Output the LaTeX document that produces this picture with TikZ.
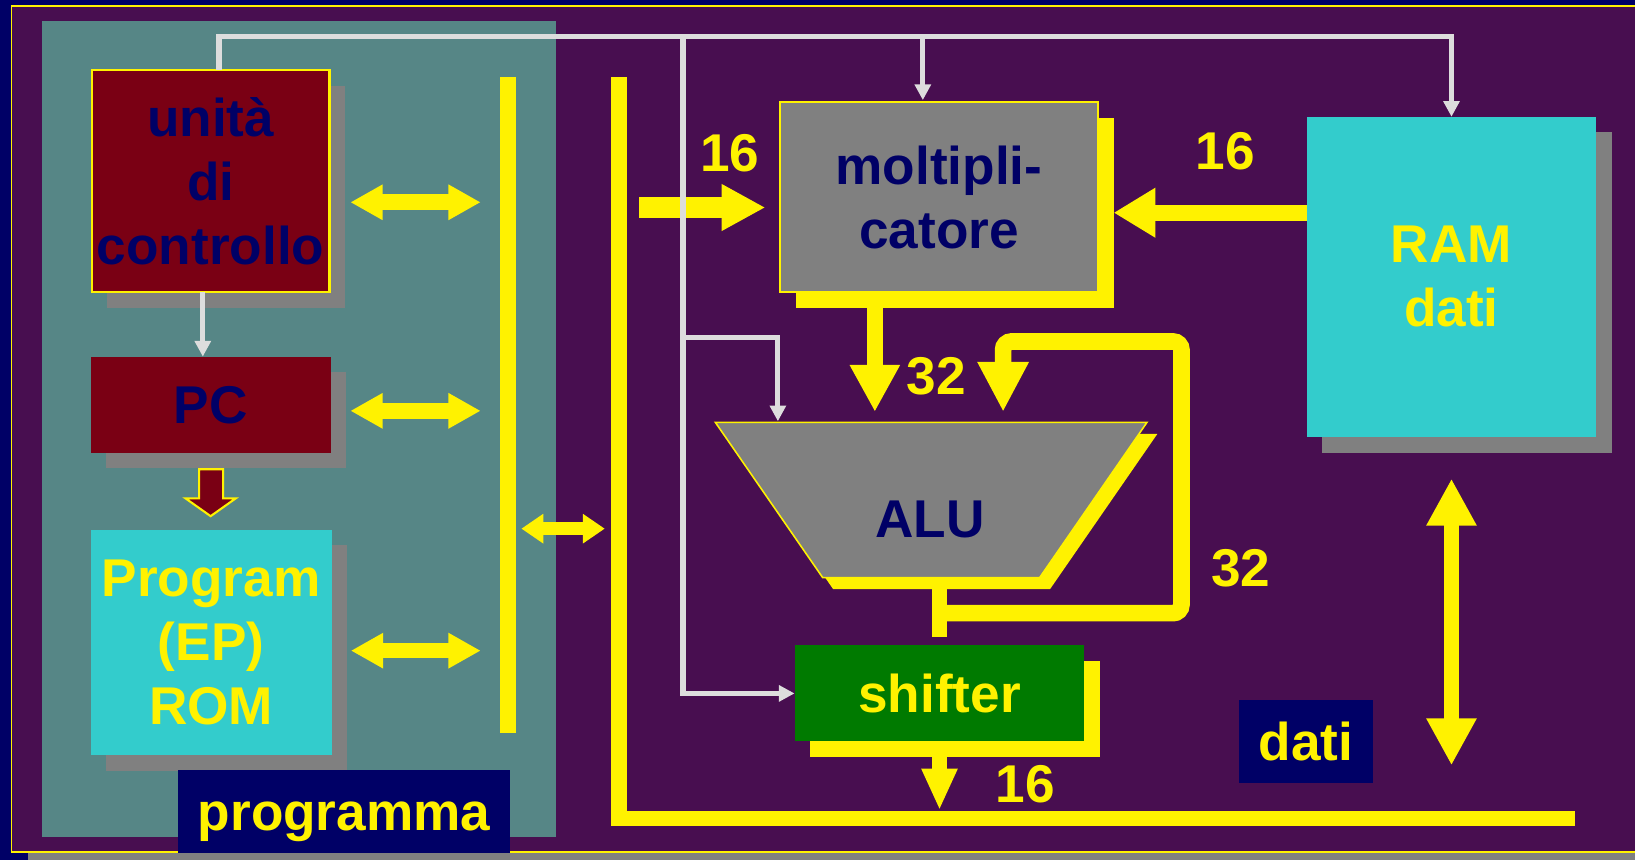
\documentclass[tikz,border=0pt]{standalone}
\usepackage{fontspec}
\setmainfont{Liberation Sans}
\usetikzlibrary{arrows.meta,shadows}
\definecolor{navy}{RGB}{0,0,102}
\definecolor{bgpurple}{RGB}{72,14,80}
\definecolor{progteal}{RGB}{86,134,134}
\definecolor{dred}{RGB}{122,0,20}
\definecolor{cyanbox}{RGB}{51,204,204}
\definecolor{gbox}{RGB}{128,128,128}
\definecolor{gshift}{RGB}{0,122,0}
\definecolor{ctrl}{RGB}{221,221,221}
\begin{document}
\begin{tikzpicture}[x=1pt,y=-1pt,
  every node/.style={font=\fontsize{51}{61.5}\selectfont\bfseries, inner sep=0pt, outer sep=0pt},
  grayshadow/.style={drop shadow={shadow xshift=15pt, shadow yshift=-15pt, fill=gbox, opacity=1}},
  yelshadow/.style={drop shadow={shadow xshift=15pt, shadow yshift=-15pt, fill=yellow, opacity=1}},
  onel/.style={text height=36.5pt, text depth=0pt},
  ctrlarrow/.style={draw=ctrl, line width=5pt, -{Triangle[width=15pt,length=15pt]}},
  bus/.style={draw=yellow, line width=15pt, line join=miter},
  dblarrow/.style={draw=yellow, line width=15pt, {Triangle[width=32pt,length=31pt]}-{Triangle[width=32pt,length=31pt]}},
]
\useasboundingbox (0,0) rectangle (1568,825);
% background and frame
\fill[navy] (0,0) rectangle (1568,825);
\fill[gbox] (27,817) rectangle (1568,825);
\fill[bgpurple] (11,6) rectangle (1568,817);
\draw[yellow, line width=1.8pt] (1572,6) -- (11,6) -- (11,817) -- (1572,817);
\fill[progteal] (40,20) rectangle (533,803);

% program-side blocks
\node[fill=dred, draw=yellow, line width=2pt, minimum width=228pt, minimum height=213pt,
      align=center, text=navy, grayshadow] (cu) at (202,173.5) {unità\\di\\controllo};
\node[fill=dred, minimum width=230pt, minimum height=92pt, text=navy, onel, grayshadow] (pc) at (202,388) {PC};
\node[fill=cyanbox, minimum width=231pt, minimum height=216pt, align=center, text=yellow,
      grayshadow] (rom) at (202.5,616) {Program\\(EP)\\ROM};

% PC -> ROM block arrow
\filldraw[fill=dred, draw=yellow, line width=2pt, line join=miter]
  (191,450) -- (214,450) -- (214,478) -- (226,478) -- (202,495) -- (178,478) -- (191,478) -- cycle;

% data-side blocks
\node[fill=gbox, draw=yellow, line width=2pt, minimum width=305pt, minimum height=182pt,
      align=center, text=navy, yelshadow] (mul) at (900.5,189) {moltipli-\\catore};
\node[fill=cyanbox, minimum width=278pt, minimum height=307pt, align=center, text=yellow,
      grayshadow] (ram) at (1392,265.5) {RAM\\dati};
\node[fill=gshift, minimum width=278pt, minimum height=92pt, text=yellow, onel, yelshadow] (sh) at (901,665) {shifter};

% ALU
\fill[yellow] (696,416) -- (1110,416) -- (1007,565) -- (799,565) -- cycle;
\filldraw[fill=gbox, draw=yellow, line width=1.5pt] (686,405) -- (1100,405) -- (997,554) -- (789,554) -- cycle;
\node[text=navy, onel] (alu) at (892,497) {ALU};

% buses
\coordinate (pbtop) at (487,74);
\coordinate (pbbot) at (487,703);
\draw[bus] (pbtop) -- (pbbot);
\coordinate (dbtop) at (593.5,74);
\coordinate (dbcorner) at (593.5,785);
\coordinate (dbend) at (1510,785);
\draw[bus] (dbtop) -- (dbcorner) -- (dbend);

% block to program-bus arrows
\draw[dblarrow] ([xshift=20pt]cu.east |- 0,194) -- (461,194);
\draw[dblarrow] ([xshift=19pt]pc.east |- 0,394) -- (461,394);
\draw[dblarrow] ([xshift=18.5pt]rom.east |- 0,624) -- (461,624);
% bus to bus
\draw[draw=yellow, line width=12pt, {Triangle[width=27pt,length=21pt]}-{Triangle[width=27pt,length=21pt]}] (500,507) -- (580,507);

% data arrows
\draw[draw=yellow, line width=20pt, -{Triangle[width=42pt,length=42pt]}] (613,199) -- ([xshift=-14pt]mul.west |- 0,199);
\draw[draw=yellow, line width=15pt, -{Triangle[width=45pt,length=40pt]}] (ram.west |- 0,204) -- ([xshift=15pt]mul.east |- 0,204);
\draw[draw=yellow, line width=15pt, -{Triangle[width=45pt,length=45pt]}] (839,294) -- (839,395);
\draw[draw=yellow, line width=16pt, rounded corners=8pt, -{Triangle[width=46pt,length=48pt]}]
  (901,588) -- (1133,588) -- (1133,327.5) -- (962,327.5) -- (962,395);
\draw[draw=yellow, line width=15pt] (901,560) -- (901,611);
\draw[draw=yellow, line width=14pt, -{Triangle[width=32pt,length=40pt]}] (901,726) -- (901,777);
\draw[draw=yellow, line width=15pt, {Triangle[width=45pt,length=45pt]}-{Triangle[width=45pt,length=45pt]}] (1392,459) -- (1392,734);

% control lines
\draw[ctrlarrow] ([xshift=8pt]cu.north) |- (1392,35) -- (ram.north);
\draw[ctrlarrow] (885,35) -- (885,96);
\draw[ctrlarrow] (655,35) |- (sh.west);
\draw[ctrlarrow] (655,324) -| (746,404);
\draw[ctrlarrow] ([xshift=-7.5pt]cu.south) -- ([xshift=-7.5pt]pc.north);

% labels
\node[fill=navy, minimum width=318pt, minimum height=80pt, text=yellow, onel] (progl) at (330,778) {programma};
\node[fill=navy, minimum width=129pt, minimum height=80pt, text=yellow, onel] (datil) at (1252.5,711) {dati};
\node[text=yellow, onel] (l16a) at (700,146) {16};
\node[text=yellow, onel] (l16b) at (1175,144) {16};
\node[text=yellow, onel] (l32a) at (898,360) {32};
\node[text=yellow, onel] (l32b) at (1190,544) {32};
\node[text=yellow, onel] (l16c) at (983,751) {16};
\end{tikzpicture}
\end{document}
